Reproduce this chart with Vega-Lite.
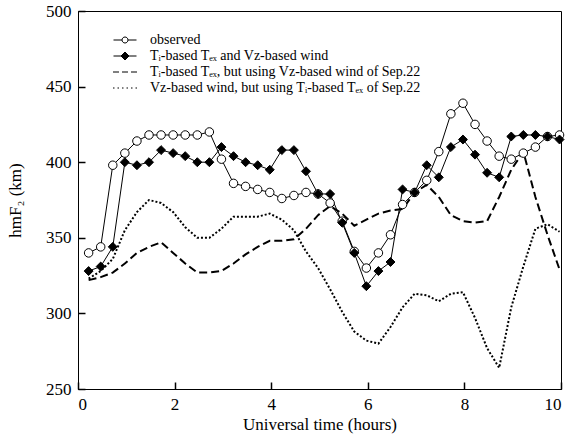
{
  "$schema": "https://vega.github.io/schema/vega-lite/v6.json",
  "width": 483,
  "height": 378,
  "autosize": "none",
  "padding": {"left": 78, "top": 11, "right": 19, "bottom": 50},
  "background": "white",
  "config": {
    "view": {"stroke": "black", "strokeWidth": 1},
    "axis": {"grid": false, "ticks": true, "domainColor": "black", "tickColor": "black", "labelFont": "Liberation Serif", "titleFont": "Liberation Serif", "labelFontSize": 17, "titleFontSize": 17, "titleFontWeight": "normal", "labelColor": "black", "titleColor": "black"},
    "legend": {"labelFont": "Liberation Serif", "labelColor": "black"}
  },
  "data": {"values": [
    {"t":0.22,"v":340,"s":"o"},{"t":0.47,"v":344,"s":"o"},{"t":0.72,"v":398,"s":"o"},{"t":0.97,"v":406,"s":"o"},{"t":1.22,"v":414,"s":"o"},{"t":1.47,"v":418,"s":"o"},{"t":1.72,"v":418,"s":"o"},{"t":1.97,"v":418,"s":"o"},{"t":2.22,"v":418,"s":"o"},{"t":2.47,"v":418,"s":"o"},
    {"t":2.72,"v":420,"s":"o"},{"t":2.97,"v":402,"s":"o"},{"t":3.22,"v":386,"s":"o"},{"t":3.47,"v":384,"s":"o"},{"t":3.72,"v":382,"s":"o"},{"t":3.97,"v":380,"s":"o"},{"t":4.22,"v":376,"s":"o"},{"t":4.47,"v":378,"s":"o"},{"t":4.72,"v":380,"s":"o"},{"t":4.97,"v":379,"s":"o"},
    {"t":5.22,"v":373,"s":"o"},{"t":5.47,"v":361,"s":"o"},{"t":5.72,"v":341,"s":"o"},{"t":5.97,"v":330,"s":"o"},{"t":6.22,"v":340,"s":"o"},{"t":6.47,"v":352,"s":"o"},{"t":6.72,"v":372,"s":"o"},{"t":6.97,"v":380,"s":"o"},{"t":7.22,"v":388,"s":"o"},{"t":7.47,"v":407,"s":"o"},
    {"t":7.72,"v":432,"s":"o"},{"t":7.97,"v":439,"s":"o"},{"t":8.22,"v":425,"s":"o"},{"t":8.47,"v":414,"s":"o"},{"t":8.72,"v":404,"s":"o"},{"t":8.97,"v":402,"s":"o"},{"t":9.22,"v":406,"s":"o"},{"t":9.47,"v":410,"s":"o"},{"t":9.72,"v":417,"s":"o"},{"t":9.97,"v":418,"s":"o"},
    {"t":0.22,"v":328,"s":"a"},{"t":0.47,"v":331,"s":"a"},{"t":0.72,"v":344,"s":"a"},{"t":0.97,"v":400,"s":"a"},{"t":1.22,"v":398,"s":"a"},{"t":1.47,"v":400,"s":"a"},{"t":1.72,"v":408,"s":"a"},{"t":1.97,"v":406,"s":"a"},{"t":2.22,"v":404,"s":"a"},{"t":2.47,"v":400,"s":"a"},
    {"t":2.72,"v":400,"s":"a"},{"t":2.97,"v":410,"s":"a"},{"t":3.22,"v":404,"s":"a"},{"t":3.47,"v":400,"s":"a"},{"t":3.72,"v":398,"s":"a"},{"t":3.97,"v":395,"s":"a"},{"t":4.22,"v":408,"s":"a"},{"t":4.47,"v":408,"s":"a"},{"t":4.72,"v":394,"s":"a"},{"t":4.97,"v":379,"s":"a"},
    {"t":5.22,"v":379,"s":"a"},{"t":5.47,"v":360,"s":"a"},{"t":5.72,"v":340,"s":"a"},{"t":5.97,"v":318,"s":"a"},{"t":6.22,"v":328,"s":"a"},{"t":6.47,"v":334,"s":"a"},{"t":6.72,"v":382,"s":"a"},{"t":6.97,"v":380,"s":"a"},{"t":7.22,"v":398,"s":"a"},{"t":7.47,"v":390,"s":"a"},
    {"t":7.72,"v":410,"s":"a"},{"t":7.97,"v":415,"s":"a"},{"t":8.22,"v":405,"s":"a"},{"t":8.47,"v":393,"s":"a"},{"t":8.72,"v":390,"s":"a"},{"t":8.97,"v":417,"s":"a"},{"t":9.22,"v":418,"s":"a"},{"t":9.47,"v":418,"s":"a"},{"t":9.72,"v":417,"s":"a"},{"t":9.97,"v":415,"s":"a"},
    {"t":0.22,"v":322,"s":"b"},{"t":0.47,"v":324,"s":"b"},{"t":0.72,"v":327,"s":"b"},{"t":0.97,"v":333,"s":"b"},{"t":1.22,"v":340,"s":"b"},{"t":1.47,"v":344,"s":"b"},{"t":1.72,"v":347,"s":"b"},{"t":1.97,"v":340,"s":"b"},{"t":2.22,"v":333,"s":"b"},{"t":2.47,"v":327,"s":"b"},
    {"t":2.72,"v":327,"s":"b"},{"t":2.97,"v":328,"s":"b"},{"t":3.22,"v":333,"s":"b"},{"t":3.47,"v":339,"s":"b"},{"t":3.72,"v":344,"s":"b"},{"t":3.97,"v":348,"s":"b"},{"t":4.22,"v":348,"s":"b"},{"t":4.47,"v":349,"s":"b"},{"t":4.72,"v":356,"s":"b"},{"t":4.97,"v":365,"s":"b"},
    {"t":5.22,"v":371,"s":"b"},{"t":5.47,"v":366,"s":"b"},{"t":5.72,"v":358,"s":"b"},{"t":5.97,"v":362,"s":"b"},{"t":6.22,"v":366,"s":"b"},{"t":6.47,"v":368,"s":"b"},{"t":6.72,"v":369,"s":"b"},{"t":6.97,"v":380,"s":"b"},{"t":7.22,"v":385,"s":"b"},{"t":7.47,"v":377,"s":"b"},
    {"t":7.72,"v":365,"s":"b"},{"t":7.97,"v":361,"s":"b"},{"t":8.22,"v":360,"s":"b"},{"t":8.47,"v":361,"s":"b"},{"t":8.72,"v":377,"s":"b"},{"t":8.97,"v":395,"s":"b"},{"t":9.22,"v":407,"s":"b"},{"t":9.47,"v":377,"s":"b"},{"t":9.72,"v":352,"s":"b"},{"t":9.97,"v":329,"s":"b"},
    {"t":0.22,"v":323,"s":"c"},{"t":0.47,"v":328,"s":"c"},{"t":0.72,"v":336,"s":"c"},{"t":0.97,"v":355,"s":"c"},{"t":1.22,"v":367,"s":"c"},{"t":1.47,"v":375,"s":"c"},{"t":1.72,"v":373,"s":"c"},{"t":1.97,"v":367,"s":"c"},{"t":2.22,"v":357,"s":"c"},{"t":2.47,"v":350,"s":"c"},
    {"t":2.72,"v":350,"s":"c"},{"t":2.97,"v":356,"s":"c"},{"t":3.22,"v":364,"s":"c"},{"t":3.47,"v":364,"s":"c"},{"t":3.72,"v":364,"s":"c"},{"t":3.97,"v":366,"s":"c"},{"t":4.22,"v":362,"s":"c"},{"t":4.47,"v":355,"s":"c"},{"t":4.72,"v":341,"s":"c"},{"t":4.97,"v":330,"s":"c"},
    {"t":5.22,"v":316,"s":"c"},{"t":5.47,"v":301,"s":"c"},{"t":5.72,"v":288,"s":"c"},{"t":5.97,"v":282,"s":"c"},{"t":6.22,"v":280,"s":"c"},{"t":6.47,"v":291,"s":"c"},{"t":6.72,"v":304,"s":"c"},{"t":6.97,"v":313,"s":"c"},{"t":7.22,"v":312,"s":"c"},{"t":7.47,"v":308,"s":"c"},
    {"t":7.72,"v":313,"s":"c"},{"t":7.97,"v":314,"s":"c"},{"t":8.22,"v":297,"s":"c"},{"t":8.47,"v":277,"s":"c"},{"t":8.72,"v":264,"s":"c"},{"t":8.97,"v":304,"s":"c"},{"t":9.22,"v":331,"s":"c"},{"t":9.47,"v":356,"s":"c"},{"t":9.72,"v":359,"s":"c"},{"t":9.97,"v":354,"s":"c"}
  ]},
  "layer": [
    {
      "transform": [{"filter": "datum.s == 'o' || datum.s == 'a'"}],
      "mark": {"type": "line", "color": "black", "strokeWidth": 1},
      "encoding": {
        "x": {"field": "t", "type": "quantitative", "scale": {"domain": [0, 10], "nice": false, "zero": false},
              "axis": {"values": [0, 2, 4, 6, 8, 10], "ticks": true, "tickColor": "black", "tickWidth": 1.5, "tickSize": -7, "labelPadding": 14, "title": "Universal time (hours)", "titlePadding": 4}},
        "y": {"field": "v", "type": "quantitative", "scale": {"domain": [250, 500], "nice": false, "zero": false},
              "axis": {"values": [250, 300, 350, 400, 450, 500], "ticks": true, "tickColor": "black", "tickWidth": 1.5, "tickSize": -7, "labelPadding": 14, "title": "hmF₂ (km)", "titlePadding": 21}},
        "detail": {"field": "s"}
      }
    },
    {
      "transform": [{"filter": "datum.s == 'b' || datum.s == 'c'"}],
      "mark": {"type": "line", "color": "black", "strokeWidth": 2},
      "encoding": {
        "x": {"field": "t", "type": "quantitative"},
        "y": {"field": "v", "type": "quantitative"},
        "strokeDash": {"field": "s", "type": "nominal", "scale": {"domain": ["b", "c"], "range": [[8, 4], [2, 2]]}, "legend": null}
      }
    },
    {
      "transform": [{"filter": "datum.s == 'o'"}],
      "mark": {"type": "point", "shape": "circle", "size": 72, "filled": true, "fill": "white", "stroke": "black", "strokeWidth": 1, "opacity": 1},
      "encoding": {
        "x": {"field": "t", "type": "quantitative"},
        "y": {"field": "v", "type": "quantitative"}
      }
    },
    {
      "transform": [{"filter": "datum.s == 'a'"}],
      "mark": {"type": "point", "shape": "diamond", "size": 80, "filled": true, "fill": "black", "stroke": "black", "strokeWidth": 1, "opacity": 1},
      "encoding": {
        "x": {"field": "t", "type": "quantitative"},
        "y": {"field": "v", "type": "quantitative"}
      }
    },
    {
      "transform": [{"filter": "datum.t < 0"}],
      "mark": {"type": "point", "filled": true, "opacity": 1},
      "encoding": {
        "x": {"field": "t", "type": "quantitative"},
        "y": {"field": "v", "type": "quantitative"},
        "shape": {"field": "s", "type": "nominal",
          "scale": {"domain": ["o", "a", "b", "c"], "range": [
            "M-2.3,0L-0.6,0M0.6,0L2.3,0M0.6,0A0.6,0.6,0,1,1,-0.6,0A0.6,0.6,0,1,1,0.6,0Z",
            "M-2.3,0L2.3,0M0,-0.8L0.8,0L0,0.8L-0.8,0Z",
            "M-2.4,0L-1.2,0M-0.6,0L0.6,0M1.2,0L2.4,0",
            "M-2.4,0L-2.1,0M-1.5,0L-1.2,0M-0.6,0L-0.3,0M0.3,0L0.6,0M1.2,0L1.5,0M2.1,0L2.4,0"]},
          "legend": {"orient": "none", "legendX": 40, "legendY": 22, "title": null, "padding": 0, "rowPadding": 2, "symbolSize": 100, "labelOffset": 18, "labelFont": "Liberation Serif", "labelFontSize": 14, "labelColor": "black", "labelLimit": 500, "symbolOpacity": 1,
            "labelExpr": "datum.value == 'o' ? 'observed' : datum.value == 'a' ? 'Tᵢ-based Tₑₓ and Vz-based wind' : datum.value == 'b' ? 'Tᵢ-based Tₑₓ, but using Vz-based wind of Sep.22' : 'Vz-based wind, but using Tᵢ-based Tₑₓ of Sep.22'"}},
        "fill": {"field": "s", "type": "nominal", "scale": {"domain": ["o", "a", "b", "c"], "range": ["white", "black", "transparent", "transparent"]}},
        "stroke": {"field": "s", "type": "nominal", "scale": {"domain": ["o", "a", "b", "c"], "range": ["black", "black", "black", "black"]}},
        "strokeWidth": {"field": "s", "type": "nominal", "scale": {"domain": ["o", "a", "b", "c"], "range": [1, 1, 2, 2]}}
      }
    }
  ]
}
